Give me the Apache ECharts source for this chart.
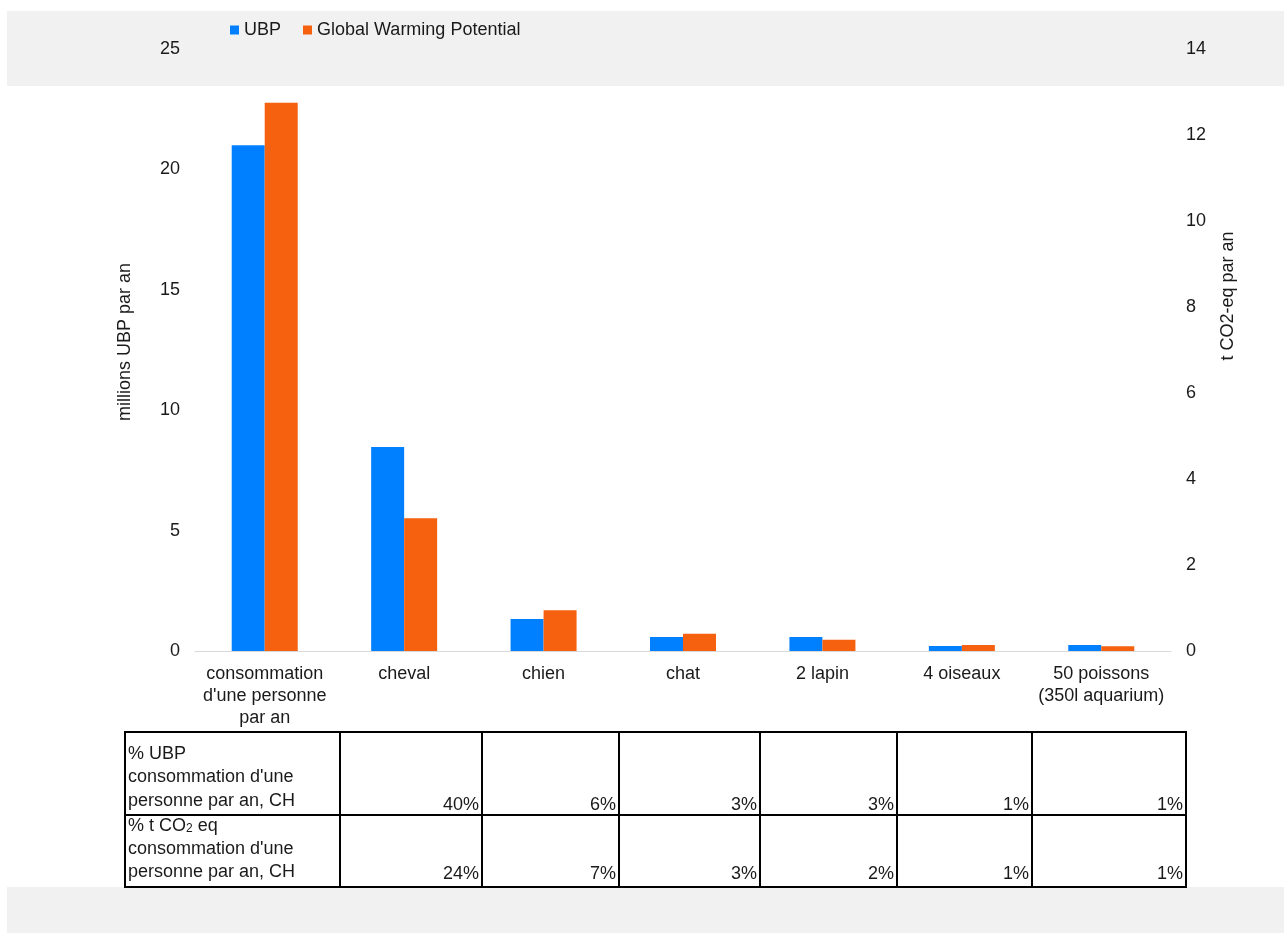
<!DOCTYPE html>
<html><head><meta charset="utf-8">
<script src="https://cdn.jsdelivr.net/npm/echarts@6/dist/echarts.min.js"></script>
<style>html,body{margin:0;padding:0;background:#fff}#c{width:1284px;height:933px}</style>
</head><body><div id="c"></div>
<script>
const categories = ["consommation\nd'une personne\npar an", "cheval", "chien", "chat", "2 lapin", "4 oiseaux", "50 poissons\n(350l aquarium)"];
const ubp = [21.0, 8.47, 1.33, 0.58, 0.58, 0.21, 0.25];
const gwp = [12.75, 3.09, 0.95, 0.40, 0.26, 0.14, 0.11];
const pctUbp = ["40%", "6%", "3%", "3%", "1%", "1%"];
const pctCo2 = ["24%", "7%", "3%", "2%", "1%", "1%"];
const seriesNames = ["UBP", "Global Warming Potential"];

const FONT = "'Liberation Sans', Arial, sans-serif";
const TXT = '#1a1a1a';
const FS = 18;
const colX = [125, 340, 482, 619, 760, 897, 1032, 1186];
const rowY = [732, 815, 887];

const g = [];
g.push({type:'rect', z:-10, shape:{x:7,y:11,width:1277,height:75}, style:{fill:'#f1f1f1'}});
g.push({type:'rect', z:-10, shape:{x:7,y:887,width:1277,height:46}, style:{fill:'#f1f1f1'}});
g.push({type:'text', x:125, y:342, rotation:Math.PI/2, style:{text:'millions UBP par an', font:FS+'px '+FONT, fill:TXT, textAlign:'center', textVerticalAlign:'middle'}});
g.push({type:'text', x:1228, y:296, rotation:Math.PI/2, style:{text:'t CO2-eq par an', font:FS+'px '+FONT, fill:TXT, textAlign:'center', textVerticalAlign:'middle'}});
// table cells
for (let r = 0; r < 2; r++) {
  for (let c = 0; c < 7; c++) {
    g.push({type:'rect', shape:{x:colX[c], y:rowY[r], width:colX[c+1]-colX[c], height:rowY[r+1]-rowY[r]}, style:{fill:'#fff', stroke:'#000', lineWidth:2}});
  }
}
g.push({type:'text', x:128, y:742, style:{text:"% UBP\nconsommation d'une\npersonne par an, CH", font:FS+'px '+FONT, fill:TXT, lineHeight:23.5}});
g.push({type:'text', x:128, y:815, style:{rich:{a:{font:FS+'px '+FONT, fill:TXT, lineHeight:23}, s:{font:'12px '+FONT, fill:TXT, lineHeight:23, padding:[4,0,0,0]}}, text:"{a|% t CO}{s|2}{a| eq}\n{a|consommation d'une}\n{a|personne par an, CH}"}});
for (let c = 0; c < 6; c++) {
  g.push({type:'text', x:colX[c+2]-3, y:rowY[1]-1, style:{text:pctUbp[c], font:FS+'px '+FONT, fill:TXT, textAlign:'right', textVerticalAlign:'bottom'}});
  g.push({type:'text', x:colX[c+2]-3, y:rowY[2]-4, style:{text:pctCo2[c], font:FS+'px '+FONT, fill:TXT, textAlign:'right', textVerticalAlign:'bottom'}});
}

const chart = echarts.init(document.getElementById('c'), null, {renderer:'canvas'});
chart.setOption({
  animation:false,
  backgroundColor:'#fff',
  textStyle:{fontFamily:FONT},
  legend:{left:225, top:16, itemWidth:9, itemHeight:9, itemGap:22, icon:'rect',
    textStyle:{fontSize:FS, color:TXT, fontFamily:FONT, padding:[0,0,0,0]}, data:seriesNames},
  grid:{left:195, right:113, top:49, bottom:282, containLabel:false},
  xAxis:{type:'category', data:categories,
    axisLine:{lineStyle:{color:'#d9d9d9', width:1}}, axisTick:{show:false},
    axisLabel:{color:TXT, fontSize:FS, fontFamily:FONT, margin:12, lineHeight:22, interval:0}},
  yAxis:[
    {type:'value', min:0, max:25, interval:5, splitLine:{show:false}, axisLine:{show:false}, axisTick:{show:false},
     axisLabel:{color:TXT, fontSize:FS, fontFamily:FONT, margin:15}},
    {type:'value', min:0, max:14, interval:2, splitLine:{show:false}, axisLine:{show:false}, axisTick:{show:false},
     axisLabel:{color:TXT, fontSize:FS, fontFamily:FONT, margin:15}}
  ],
  series:[
    {name:seriesNames[0], type:'bar', data:ubp, yAxisIndex:0, barWidth:33, barGap:'0%', itemStyle:{color:'#0080ff'}},
    {name:seriesNames[1], type:'bar', data:gwp, yAxisIndex:1, barWidth:33, barGap:'0%', itemStyle:{color:'#f5610f'}}
  ],
  graphic:g
});
</script></body></html>
